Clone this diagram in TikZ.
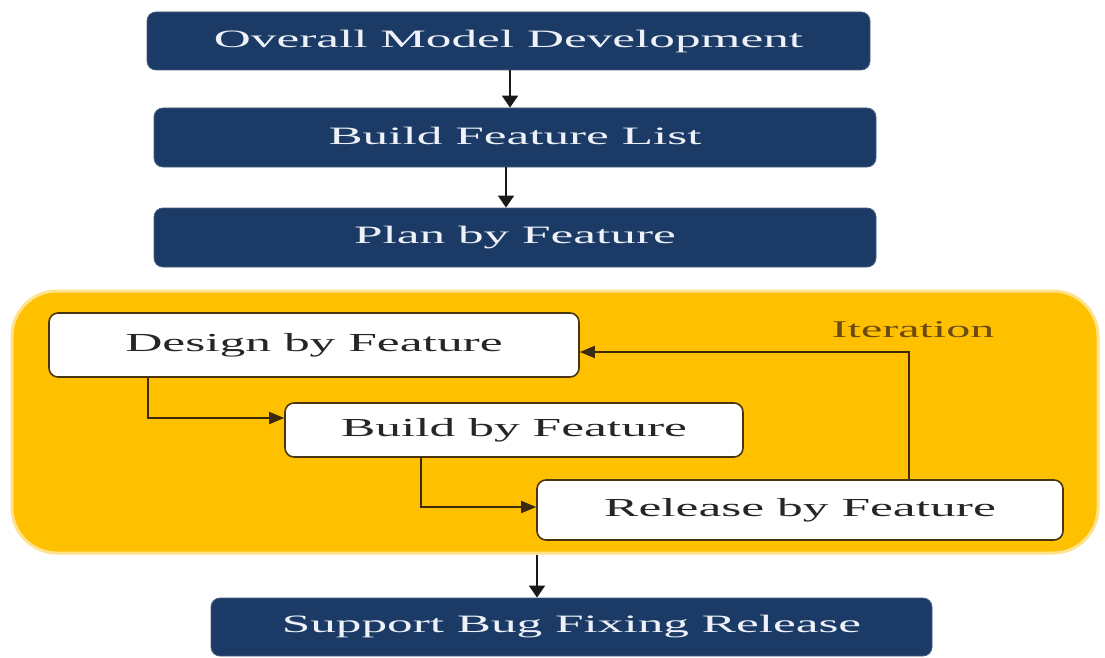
\documentclass[tikz,border=0pt]{standalone}
\usepackage{fontspec}
\usepackage{graphicx}
\setmainfont{Liberation Serif}
\usetikzlibrary{arrows.meta}
\definecolor{navy}{HTML}{1B3A66}
\definecolor{gold}{HTML}{FFC000}
\definecolor{edgebrown}{HTML}{4A3512}
\definecolor{itbrown}{HTML}{6B4A14}
\definecolor{paletext}{HTML}{EEF2F8}
\newcommand{\wx}[2][2.05]{\scalebox{#1}[1]{#2}}
\tikzset{
  darkbox/.style={rectangle, rounded corners=9pt, fill=navy, draw=navy!80!white, line width=0.8pt,
    inner sep=0pt, text=paletext, font=\fontsize{25}{30}\selectfont},
  whitebox/.style={rectangle, rounded corners=9pt, fill=white, draw=edgebrown, line width=1.6pt,
    inner sep=0pt, text=black!85, font=\fontsize{26}{31}\selectfont},
  goldbox/.style={rectangle, rounded corners=45pt, fill=gold, draw=gold!45, line width=3pt, inner sep=0pt},
  arr/.style={line width=1.8pt, draw=black!90, -{Triangle[length=12pt,width=16pt]}},
  iarr/.style={line width=1.8pt, draw=edgebrown!80!black, -{Triangle[length=15pt,width=12pt]}},
}
\begin{document}
\begin{tikzpicture}[x=1pt,y=-1pt]
\useasboundingbox[fill=white] (0,0) rectangle (1105,658);

\node[darkbox, minimum width=723pt, minimum height=58pt] (ovr) at (508.5,41) {\raisebox{5pt}{\wx{Overall Model Development}}};
\node[darkbox, minimum width=722pt, minimum height=59pt] (bfl) at (515,137.5) {\raisebox{4pt}{\wx{Build Feature List}}};
\node[darkbox, minimum width=722pt, minimum height=59pt] (pbf) at (515,237.5) {\raisebox{4pt}{\wx{Plan by Feature}}};

\node[goldbox, minimum width=1086pt, minimum height=262pt] (iter) at (555,422) {};

\node[whitebox, minimum width=530pt, minimum height=64pt] (dbf) at (314,345) {\raisebox{6pt}{\wx[1.98]{Design by Feature}}};
\node[whitebox, minimum width=458pt, minimum height=54pt] (bbf) at (514,430) {\raisebox{3pt}{\wx[1.98]{Build by Feature}}};
\node[whitebox, minimum width=526pt, minimum height=60pt] (rbf) at (800,510) {\raisebox{4pt}{\wx[1.98]{Release by Feature}}};

\node[text=itbrown, font=\fontsize{24}{29}\selectfont, inner sep=0pt] (itlbl) at (913,330) {\wx[2]{Iteration}};

\node[darkbox, minimum width=721pt, minimum height=58pt] (sbf) at (571.5,627) {\raisebox{3pt}{\wx{Support Bug Fixing Release}}};

\draw[arr] (ovr.south -| 510,0) -- (bfl.north -| 510,0);
\draw[arr] ([xshift=-9pt]bfl.south) -- ([xshift=-9pt]pbf.north);

\draw[iarr] ([xshift=-166pt]dbf.south) |- ([yshift=12pt]bbf.west);
\draw[iarr] ([xshift=-93pt]bbf.south) |- ([yshift=3pt]rbf.west);
\draw[iarr] ([xshift=109pt]rbf.north) |- ([yshift=-7pt]dbf.east);

\draw[arr] ([xshift=-34.5pt]sbf.north |- iter.south) -- ([xshift=-34.5pt]sbf.north);
\end{tikzpicture}
\end{document}
